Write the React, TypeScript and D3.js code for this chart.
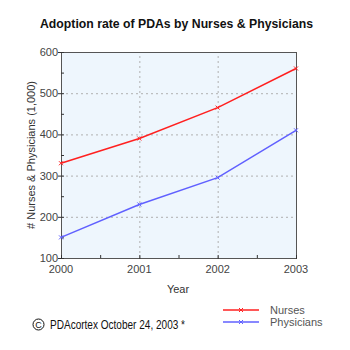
import React from "react";
import * as d3 from "d3";

const years = [2000, 2001, 2002, 2003];
const nurses = [330, 390, 465, 560];
const physicians = [150, 230, 295, 410];
const yTicks = [100, 200, 300, 400, 500, 600];
const seriesNames = ["Nurses", "Physicians"];
const seriesColors = ["#ff2020", "#6060ff"];

export default function App() {
  const W = 350, H = 350;
  const x = d3.scaleLinear().domain([2000, 2003]).range([61, 296]);
  const y = d3.scaleLinear().domain([100, 600]).range([258, 52]);
  const line = d3.line<number>().x((_, i) => x(years[i])).y((d) => y(d));
  const series = [nurses, physicians];
  const minorY = d3.range(150, 600, 100);
  const minorX = [2000.5, 2001.5, 2002.5];
  const font = "Arial, 'Liberation Sans', sans-serif";
  return (
    <svg width={W} height={H} style={{ position: "absolute", left: 0, top: 0 }} fontFamily={font}>
      <rect x={0} y={0} width={W} height={H} fill="#fff" />
      <text x={40} y={28} fontSize={13.5} fontWeight="bold" fill="#111" textLength={273} lengthAdjust="spacingAndGlyphs">
        Adoption rate of PDAs by Nurses &amp; Physicians
      </text>
      <rect x={x(2000)} y={y(600)} width={x(2003) - x(2000)} height={y(100) - y(600)} fill="#eef6fd" />
      {yTicks.slice(1, -1).map((t) => (
        <line key={"gy" + t} x1={x(2000)} x2={x(2003)} y1={y(t) + 0.5} y2={y(t) + 0.5} stroke="#b0b0b0" strokeDasharray="2,3" />
      ))}
      {years.slice(1, -1).map((t) => (
        <line key={"gx" + t} x1={x(t) + 0.5} x2={x(t) + 0.5} y1={y(100)} y2={y(600)} stroke="#b0b0b0" strokeDasharray="2,3" />
      ))}
      <rect x={x(2000) + 0.5} y={y(600) + 0.5} width={x(2003) - x(2000)} height={y(100) - y(600)} fill="none" stroke="#555" />
      {yTicks.map((t) => (
        <g key={"ty" + t}>
          <line x1={x(2000) - 3} x2={x(2000) + 3} y1={y(t) + 0.5} y2={y(t) + 0.5} stroke="#333" />
          <text x={x(2000) - 3} y={y(t) + 4} textAnchor="end" fontSize={11} fill="#444">{t}</text>
        </g>
      ))}
      {minorY.map((t) => (
        <line key={"my" + t} x1={x(2000)} x2={x(2000) + 3} y1={y(t) + 0.5} y2={y(t) + 0.5} stroke="#333" />
      ))}
      {years.map((t) => (
        <g key={"tx" + t}>
          <line x1={x(t) + 0.5} x2={x(t) + 0.5} y1={y(100) - 3} y2={y(100) + 1} stroke="#333" />
          <text x={x(t)} y={y(100) + 15} textAnchor="middle" fontSize={11} fill="#444">{t}</text>
        </g>
      ))}
      {minorX.map((t) => (
        <line key={"mx" + t} x1={x(t) + 0.5} x2={x(t) + 0.5} y1={y(100) - 3} y2={y(100)} stroke="#333" />
      ))}
      <text x={178} y={293} textAnchor="middle" fontSize={11} fill="#333">Year</text>
      <text transform={`translate(35,${(y(100) + y(600)) / 2}) rotate(-90)`} textAnchor="middle" fontSize={11} fill="#333">
        # Nurses &amp; Physicians (1,000)
      </text>
      {series.map((s, k) => (
        <g key={"s" + k}>
          <path d={line(s) || ""} fill="none" stroke={seriesColors[k]} strokeWidth={1.5} />
          {s.map((v, i) => (
            <path key={i} d={`M${x(years[i]) - 2},${y(v) - 2}L${x(years[i]) + 2},${y(v) + 2}M${x(years[i]) - 2},${y(v) + 2}L${x(years[i]) + 2},${y(v) - 2}`} stroke={seriesColors[k]} strokeWidth={1} />
          ))}
        </g>
      ))}
      {seriesNames.map((n, k) => {
        const ly = 310 + k * 12;
        return (
          <g key={"l" + n}>
            <line x1={223} x2={259} y1={ly} y2={ly} stroke={seriesColors[k]} strokeWidth={1.5} />
            <path d={`M${239},${ly - 2}L${243},${ly + 2}M${239},${ly + 2}L${243},${ly - 2}`} stroke={seriesColors[k]} />
            <text x={270} y={ly + 4} fontSize={11} fill="#555">{n}</text>
          </g>
        );
      })}
      <circle cx={38.5} cy={324.5} r={5.5} fill="none" stroke="#111" />
      <text x={38.5} y={328} textAnchor="middle" fontSize={9} fill="#111">C</text>
      <text x={50} y={329} fontSize={12} fill="#111" fontFamily="'Liberation Sans Narrow', 'Arial Narrow', sans-serif" textLength={135} lengthAdjust="spacingAndGlyphs">
        PDAcortex October 24, 2003 *
      </text>
    </svg>
  );
}
